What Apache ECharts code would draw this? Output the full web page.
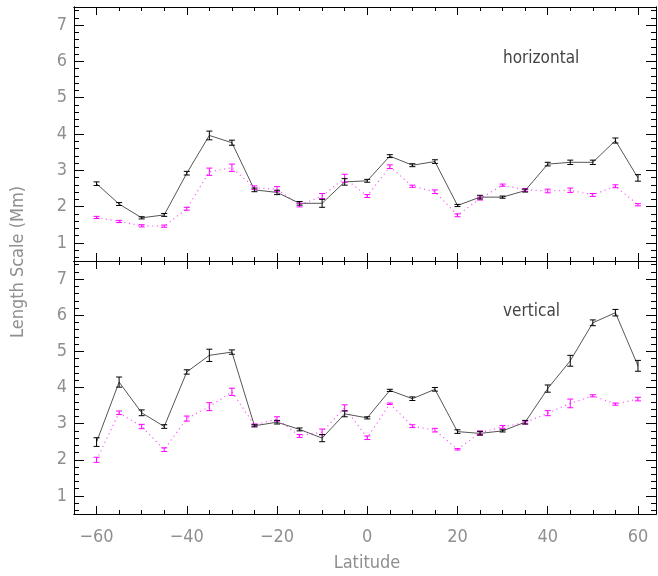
<!DOCTYPE html>
<html>
<head>
<meta charset="utf-8">
<script src="https://cdn.jsdelivr.net/npm/echarts@6/dist/echarts.min.js"></script>
<style>
  html, body { margin: 0; padding: 0; background: #fff; }
  #main { width: 658px; height: 576px; }
</style>
</head>
<body>
<div id="main"></div>
<script>
// latitude grid (deg)
var lat = [-60, -55, -50, -45, -40, -35, -30, -25, -20, -15, -10, -5, 0,
           5, 10, 15, 20, 25, 30, 35, 40, 45, 50, 55, 60];

// horizontal panel
var horizBlack = [2.63, 2.07, 1.69, 1.77, 2.92, 3.96, 3.76, 2.46, 2.39, 2.09, 2.09, 2.68, 2.71,
                  3.39, 3.14, 3.24, 2.03, 2.26, 2.26, 2.44, 3.17, 3.22, 3.22, 3.82, 2.79];
var horizBlackErr = [0.05, 0.04, 0.03, 0.04, 0.05, 0.12, 0.07, 0.05, 0.06, 0.05, 0.11, 0.09, 0.04,
                     0.04, 0.04, 0.05, 0.03, 0.05, 0.03, 0.04, 0.05, 0.06, 0.06, 0.07, 0.09];
var horizMag = [1.70, 1.59, 1.47, 1.46, 1.94, 2.96, 3.07, 2.52, 2.48, 2.04, 2.29, 2.78, 2.29,
                3.10, 2.56, 2.41, 1.76, 2.22, 2.59, 2.46, 2.43, 2.45, 2.32, 2.56, 2.05];
var horizMagErr = [0.03, 0.03, 0.03, 0.03, 0.04, 0.10, 0.10, 0.05, 0.07, 0.05, 0.07, 0.11, 0.04,
                   0.05, 0.03, 0.05, 0.04, 0.04, 0.03, 0.04, 0.05, 0.06, 0.04, 0.04, 0.03];

// vertical panel
var vertBlack = [2.49, 4.15, 3.30, 2.92, 4.43, 4.89, 4.98, 2.94, 3.04, 2.84, 2.60, 3.27, 3.16,
                 3.92, 3.69, 3.95, 2.78, 2.73, 2.80, 3.04, 3.97, 4.74, 5.79, 6.07, 4.60];
var vertBlackErr = [0.12, 0.14, 0.08, 0.05, 0.06, 0.17, 0.06, 0.03, 0.05, 0.04, 0.10, 0.08, 0.03,
                    0.03, 0.05, 0.05, 0.05, 0.05, 0.03, 0.05, 0.10, 0.15, 0.08, 0.09, 0.15];
var vertMag = [2.00, 3.30, 2.92, 2.28, 3.14, 3.47, 3.88, 2.96, 3.13, 2.66, 2.77, 3.44, 2.61,
               3.55, 2.93, 2.82, 2.29, 2.75, 2.91, 3.03, 3.29, 3.56, 3.77, 3.54, 3.68];
var vertMagErr = [0.07, 0.05, 0.06, 0.05, 0.07, 0.11, 0.10, 0.03, 0.06, 0.04, 0.08, 0.08, 0.05,
                  0.02, 0.04, 0.05, 0.02, 0.05, 0.04, 0.04, 0.07, 0.12, 0.03, 0.03, 0.05];

// ticks
var xMajor = [-60, -40, -20, 0, 20, 40, 60];
var xMinor = [-65, -60, -55, -50, -45, -40, -35, -30, -25, -20, -15, -10, -5, 0,
              5, 10, 15, 20, 25, 30, 35, 40, 45, 50, 55, 60];
var yMajor = [1, 2, 3, 4, 5, 6, 7];
var yMinor = [0.6, 0.8, 1, 1.2, 1.4, 1.6, 1.8, 2, 2.2, 2.4, 2.6, 2.8, 3, 3.2, 3.4, 3.6, 3.8,
              4, 4.2, 4.4, 4.6, 4.8, 5, 5.2, 5.4, 5.6, 5.8, 6, 6.2, 6.4, 6.6, 6.8, 7, 7.2, 7.4];

var labelFont = "'Liberation Sans Narrow', 'DejaVu Sans Condensed', 'Liberation Sans', sans-serif";
var grey = "#8f8f8f";

function xAxes(grid, showLabels) {
  var res = [];
  ["bottom", "top"].forEach(function (pos) {
    [[xMajor, 8], [xMinor, 4]].forEach(function (t, k) {
      res.push({
        type: "value", gridIndex: grid, position: pos, min: -65, max: 64,
        axisLine: { show: true, onZero: false, lineStyle: { color: "#000", width: 1 } },
        axisTick: { show: true, inside: true, length: t[1], customValues: t[0],
                    lineStyle: { color: "#000", width: 1 } },
        axisLabel: {
          show: showLabels && pos == "bottom" && k == 0,
          customValues: xMajor, margin: 14, color: grey, fontSize: 18, fontFamily: labelFont,
          formatter: function (v) { return (v < 0 ? "\u2212" : "") + Math.abs(v); }
        },
        splitLine: { show: false }
      });
    });
  });
  return res;
}

function yAxes(grid) {
  var res = [];
  ["left", "right"].forEach(function (pos) {
    [[yMajor, 10], [yMinor, 5]].forEach(function (t, k) {
      res.push({
        type: "value", gridIndex: grid, position: pos, min: 0.5, max: 7.5,
        axisLine: { show: true, onZero: false, lineStyle: { color: "#000", width: 1 } },
        axisTick: { show: true, inside: true, length: t[1], customValues: t[0],
                    lineStyle: { color: "#000", width: 1 } },
        axisLabel: {
          show: pos == "left" && k == 0,
          customValues: yMajor, margin: 7, color: grey, fontSize: 18, fontFamily: labelFont
        },
        splitLine: { show: false }
      });
    });
  });
  return res;
}

function errBars(vals, errs, color, axis) {
  return {
    type: "custom", xAxisIndex: axis, yAxisIndex: axis, z: 3,
    encode: { x: 0, y: 1 },
    data: lat.map(function (x, i) { return [x, vals[i], errs[i]]; }),
    renderItem: function (params, api) {
      var x = api.value(0), v = api.value(1), e = api.value(2);
      var hi = api.coord([x, v + e]), lo = api.coord([x, v - e]);
      var st = { stroke: color, lineWidth: 1 };
      return {
        type: "group",
        children: [
          { type: "line", shape: { x1: hi[0], y1: hi[1], x2: lo[0], y2: lo[1] }, style: st },
          { type: "line", shape: { x1: hi[0] - 3, y1: hi[1], x2: hi[0] + 3, y2: hi[1] }, style: st },
          { type: "line", shape: { x1: lo[0] - 3, y1: lo[1], x2: lo[0] + 3, y2: lo[1] }, style: st }
        ]
      };
    }
  };
}

function lineSeries(vals, axis, dotted) {
  return {
    type: "line", xAxisIndex: axis, yAxisIndex: axis, symbol: "none", z: 2,
    data: lat.map(function (x, i) { return [x, vals[i]]; }),
    lineStyle: dotted
      ? { color: "#ff5cff", width: 1.2, type: [1.2, 3.5] }
      : { color: "#555", width: 1 }
  };
}

var chart = echarts.init(document.getElementById("main"));
chart.setOption({
  animation: false,
  grid: [
    { left: 74, top: 7, width: 582, height: 254 },
    { left: 74, top: 261, width: 582, height: 253 }
  ],
  xAxis: xAxes(0, false).concat(xAxes(1, true)),
  yAxis: yAxes(0).concat(yAxes(1)),
  series: [
    lineSeries(horizMag, 0, true),
    lineSeries(horizBlack, 0, false),
    errBars(horizMag, horizMagErr, "#ff00ff", 0),
    errBars(horizBlack, horizBlackErr, "#000", 0),
    lineSeries(vertMag, 4, true),
    lineSeries(vertBlack, 4, false),
    errBars(vertMag, vertMagErr, "#ff00ff", 4),
    errBars(vertBlack, vertBlackErr, "#000", 4)
  ],
  graphic: [
    { type: "text", left: 503, top: 50,
      style: { text: "horizontal", fill: "#444", fontSize: 17, fontFamily: labelFont } },
    { type: "text", left: 503, top: 303,
      style: { text: "vertical", fill: "#444", fontSize: 17, fontFamily: labelFont } },
    { type: "text", x: 367, y: 563,
      style: { text: "Latitude", fill: grey, fontSize: 18, fontFamily: labelFont,
               align: "center", verticalAlign: "middle" } },
    { type: "text", x: 18, y: 262, rotation: Math.PI / 2,
      style: { text: "Length Scale (Mm)", fill: grey, fontSize: 18, fontFamily: labelFont,
               align: "center", verticalAlign: "middle" } }
  ]
});
</script>
</body>
</html>
